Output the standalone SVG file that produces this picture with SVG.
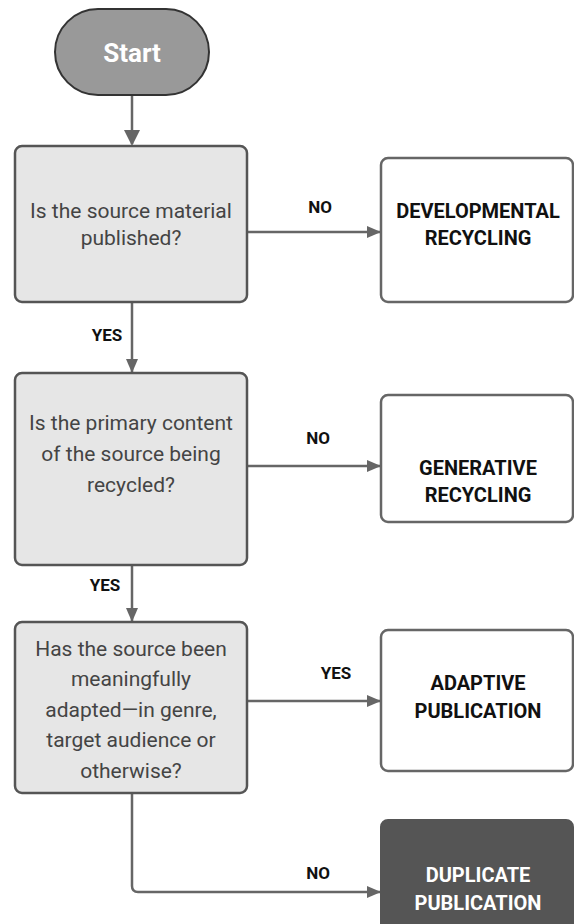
<svg xmlns="http://www.w3.org/2000/svg" width="574" height="924" viewBox="0 0 574 924">
<defs>
<marker id="ah" markerWidth="14" markerHeight="12" refX="13" refY="6" orient="auto" markerUnits="userSpaceOnUse">
<path d="M0,0 L14,6 L0,12 Z" fill="#666"/>
</marker>
<marker id="ahv" markerWidth="16" markerHeight="16" refX="14" refY="8" orient="auto" markerUnits="userSpaceOnUse">
<path d="M0,0 L16,8 L0,16 Z" fill="#666"/>
</marker>
<style>
.q{fill:#e6e6e6;stroke:#555;stroke-width:2.5}
.r{fill:#fff;stroke:#666;stroke-width:2.5}
.qt{font-family:Roboto,"Liberation Sans",sans-serif;font-size:21px;fill:#444;text-anchor:middle}
.rt{font-family:Roboto,"Liberation Sans",sans-serif;font-size:20px;font-weight:bold;fill:#111;text-anchor:middle}
.lb{font-family:Roboto,"Liberation Sans",sans-serif;font-size:17px;font-weight:bold;fill:#111;text-anchor:middle}
.c{fill:none;stroke:#666;stroke-width:2.5}
</style>
</defs>
<rect width="574" height="924" fill="#fff"/>
<g id="connectors">
<path class="c" d="M132,95 V144" stroke-width="4" marker-end="url(#ahv)"/>
<path class="c" d="M247,232 H380" marker-end="url(#ah)"/>
<path class="c" d="M132,302 V372" marker-end="url(#ah)"/>
<path class="c" d="M247,466 H380" marker-end="url(#ah)"/>
<path class="c" d="M132,565 V621" marker-end="url(#ah)"/>
<path class="c" d="M247,701 H380" marker-end="url(#ah)"/>
<path class="c" d="M132,793 V886 Q132,892 138,892 H380" marker-end="url(#ah)"/>
<text class="lb" x="320" y="213">NO</text>
<text class="lb" x="107" y="341">YES</text>
<text class="lb" x="318" y="444">NO</text>
<text class="lb" x="105" y="591">YES</text>
<text class="lb" x="336" y="679">YES</text>
<text class="lb" x="318" y="879">NO</text>
</g>
<g id="start">
<rect x="55" y="9" width="154" height="86" rx="43" fill="#999" stroke="#333" stroke-width="2"/>
<text x="132" y="62" font-family="Roboto,'Liberation Sans',sans-serif" font-size="26" font-weight="bold" fill="#fff" text-anchor="middle">Start</text>
</g>
<g id="q1">
<rect class="q" x="15" y="146" width="232" height="156" rx="7"/>
<text class="qt" x="131" y="218">Is the source material</text>
<text class="qt" x="131" y="245">published?</text>
</g>
<g id="developmental">
<rect class="r" x="381" y="158" width="192" height="144" rx="7"/>
<text class="rt" x="478" y="218">DEVELOPMENTAL</text>
<text class="rt" x="478" y="245">RECYCLING</text>
</g>
<g id="q2">
<rect class="q" x="15" y="373" width="232" height="192" rx="7"/>
<text class="qt" x="131" y="430">Is the primary content</text>
<text class="qt" x="131" y="461">of the source being</text>
<text class="qt" x="131" y="492">recycled?</text>
</g>
<g id="generative">
<rect class="r" x="381" y="395" width="192" height="127" rx="7"/>
<text class="rt" x="478" y="475">GENERATIVE</text>
<text class="rt" x="478" y="502">RECYCLING</text>
</g>
<g id="q3">
<rect class="q" x="15" y="622" width="232" height="171" rx="7"/>
<text class="qt" x="131" y="656">Has the source been</text>
<text class="qt" x="131" y="686">meaningfully</text>
<text class="qt" x="131" y="717">adapted—in genre,</text>
<text class="qt" x="131" y="747">target audience or</text>
<text class="qt" x="131" y="778">otherwise?</text>
</g>
<g id="adaptive">
<rect class="r" x="381" y="630" width="192" height="141" rx="7"/>
<text class="rt" x="478" y="690">ADAPTIVE</text>
<text class="rt" x="478" y="718">PUBLICATION</text>
</g>
<g id="duplicate">
<rect x="381" y="820" width="192" height="110" rx="7" fill="#555" stroke="#555" stroke-width="2"/>
<text class="rt" x="478" y="882" style="fill:#fff">DUPLICATE</text>
<text class="rt" x="478" y="910" style="fill:#fff">PUBLICATION</text>
</g>
</svg>
